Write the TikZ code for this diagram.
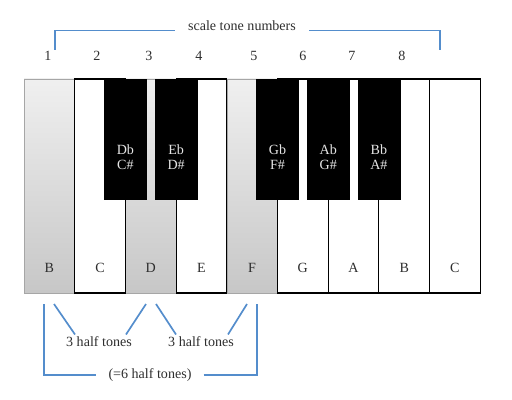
\documentclass[tikz,border=0pt]{standalone}
\usepackage{fontspec}
\setmainfont{Liberation Serif}
\usetikzlibrary{positioning}
\begin{document}
\begin{tikzpicture}[x=0.5mm, y=-0.5mm,
  % ---- colours -----------------------------------------------------------
  /utils/exec={%
    \definecolor{keyblue}{RGB}{ 84,141,204}%
    \definecolor{keytop} {gray}{0.94}%
    \definecolor{keybot} {gray}{0.78}%
    \definecolor{keytext}{gray}{0.18}%
  },
  % ---- one style per kind of key --------------------------------------
  wkey/.style={draw=black, line width=1.6pt, fill=white, anchor=north west,
    minimum width=25.35mm, minimum height=107mm, inner sep=0pt, outer sep=0pt},
  gkey/.style={wkey, draw=gray!70, line width=0.8pt,
    top color=keytop, bottom color=keybot},
  bkey/.style={draw=black, fill=black, anchor=north west,
    minimum width=21mm, minimum height=60mm, inner sep=0pt, outer sep=0pt},
  lbl/.style={font=\fontsize{20}{22}\selectfont, text=keytext},
  blbl/.style={lbl, text=white!90!black, align=center},
  brk/.style={draw=keyblue, line width=2.4pt},
]
\useasboundingbox (0,0) rectangle (512,400);

% =====================================================================
%  WHITE KEYS (shaded ones first, so the black borders stay on top)
% =====================================================================
\node[gkey] (kB1) at (24.0,79) {};
\node[gkey] (kD)  at (125.4,79) {};
\node[gkey] (kF)  at (226.8,79) {};
\node[wkey] (kC1) at (74.7,79) {};
\node[wkey] (kE)  at (176.1,79) {};
\node[wkey] (kG)  at (277.5,79) {};
\node[wkey] (kA)  at (328.2,79) {};
\node[wkey] (kB2) at (378.9,79) {};
\node[wkey] (kC2) at (429.6,79) {};

\node[lbl] (lB1) at (49.3,268)  {B};
\node[lbl] (lC1) at (100.0,268) {C};
\node[lbl] (lD)  at (150.7,268) {D};
\node[lbl] (lE)  at (201.4,268) {E};
\node[lbl] (lF)  at (252.1,268) {F};
\node[lbl] (lG)  at (302.8,268) {G};
\node[lbl] (lA)  at (353.5,268) {A};
\node[lbl] (lB2) at (404.2,268) {B};
\node[lbl] (lC2) at (454.9,268) {C};

% =====================================================================
%  BLACK KEYS
% =====================================================================
\node[bkey] (kDb) at (104.4,79) {};
\node[bkey] (kEb) at (155.1,79) {};
\node[bkey] (kGb) at (256.5,79) {};
\node[bkey] (kAb) at (307.2,79) {};
\node[bkey] (kBb) at (357.9,79) {};

\node[blbl] (lDb) at (125.4,157) {Db\\C\#};
\node[blbl] (lEb) at (176.1,157) {Eb\\D\#};
\node[blbl] (lGb) at (277.5,157) {Gb\\F\#};
\node[blbl] (lAb) at (328.2,157) {Ab\\G\#};
\node[blbl] (lBb) at (378.9,157) {Bb\\A\#};

% =====================================================================
%  SCALE TONE NUMBERS
% =====================================================================
\node[lbl] (n1) at (48,56)  {1};
\node[lbl] (n2) at (97,56)  {2};
\node[lbl] (n3) at (149,56) {3};
\node[lbl] (n4) at (199,56) {4};
\node[lbl] (n5) at (254,56) {5};
\node[lbl] (n6) at (303,56) {6};
\node[lbl] (n7) at (352,56) {7};
\node[lbl] (n8) at (402,56) {8};

\node[lbl, inner xsep=6.5mm, inner ysep=0pt] (ttl) at (242,25.5) {scale tone numbers};
\draw[brk] (55,50) |- (ttl.south west);
\draw[brk] (ttl.south east) -| (440,50);

% =====================================================================
%  HALF TONE BRACKETS
% =====================================================================
\node[lbl] (h1)  at (99,342)  {3 half tones};
\node[lbl] (h2)  at (201,342) {3 half tones};
\node[lbl, inner xsep=6mm] (six) at (150,375) {(=6 half tones)};

\coordinate (d1) at (54,304);
\coordinate (d2) at (146,304);
\coordinate (d3) at (156,304);
\coordinate (d4) at (247,304);
\draw[brk] (d1) -- ([xshift=-12mm]h1.north);
\draw[brk] (d2) -- ([xshift=13.5mm]h1.north);
\draw[brk] (d3) -- ([xshift=-12.5mm]h2.north);
\draw[brk] (d4) -- ([xshift=13.5mm]h2.north);

\coordinate (o1) at (44,304);
\coordinate (o2) at (257,304);
\draw[brk] (o1) |- (six.west);
\draw[brk] (six.east) -| (o2);

\end{tikzpicture}
\end{document}
